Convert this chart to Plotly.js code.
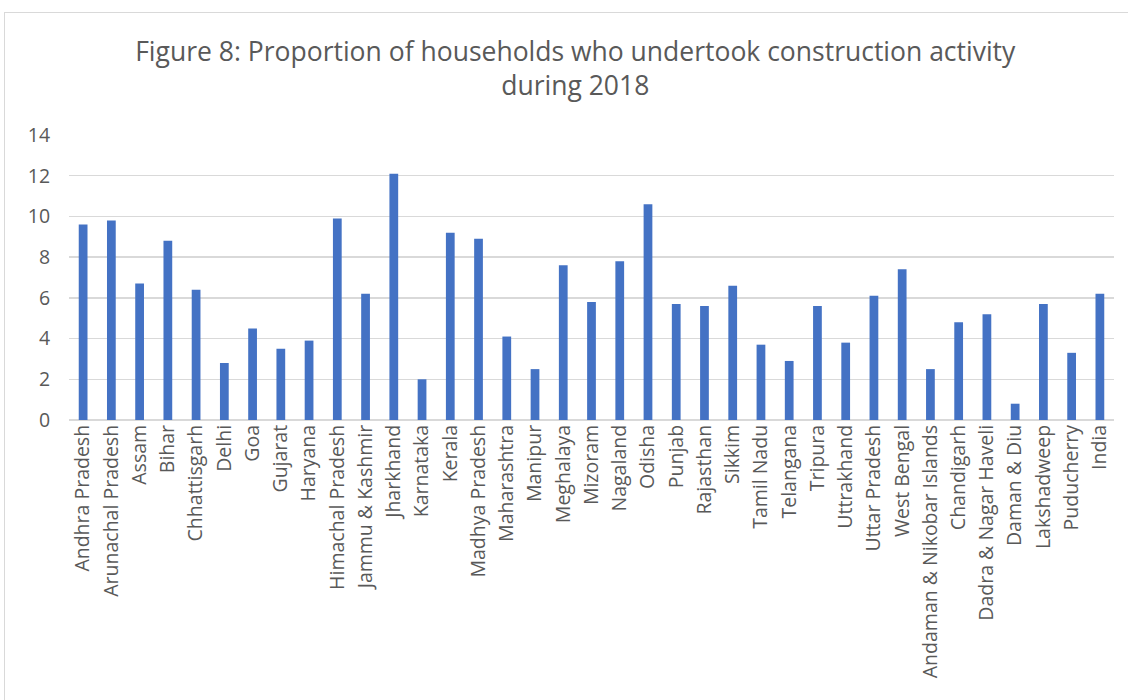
<!DOCTYPE html>
<html>
<head>
<meta charset="utf-8">
<script src="https://cdn.plot.ly/plotly-3.0.1.min.js"></script>
<style>
  html, body { margin: 0; padding: 0; background: #fff; overflow: hidden; }
  #chart { position: absolute; left: 0; top: 0; width: 1128px; height: 700px; }
  #frame { position: absolute; left: 4px; top: 12px; width: 1140px; height: 700px; border: 1px solid #d9d9d9; pointer-events: none; }
</style>
</head>
<body>
<div id="chart"></div>
<div id="frame"></div>
<script>
const states = ["Andhra Pradesh","Arunachal Pradesh","Assam","Bihar","Chhattisgarh","Delhi","Goa","Gujarat","Haryana","Himachal Pradesh","Jammu & Kashmir","Jharkhand","Karnataka","Kerala","Madhya Pradesh","Maharashtra","Manipur","Meghalaya","Mizoram","Nagaland","Odisha","Punjab","Rajasthan","Sikkim","Tamil Nadu","Telangana","Tripura","Uttrakhand","Uttar Pradesh","West Bengal","Andaman & Nikobar Islands","Chandigarh","Dadra & Nagar Haveli","Daman & Diu","Lakshadweep","Puducherry","India"];
const proportion = [9.6,9.8,6.7,8.8,6.4,2.8,4.5,3.5,3.9,9.9,6.2,12.1,2.0,9.2,8.9,4.1,2.5,7.6,5.8,7.8,10.6,5.7,5.6,6.6,3.7,2.9,5.6,3.8,6.1,7.4,2.5,4.8,5.2,0.8,5.7,3.3,6.2];
const yTicks = [0,2,4,6,8,10,12,14];

const font = "'Open Sans', sans-serif";
Plotly.newPlot('chart', [{
  type: 'bar',
  x: states,
  y: proportion,
  marker: { color: '#4472C4' },
  hoverinfo: 'x+y'
}], {
  width: 1128, height: 700,
  margin: { l: 69, r: 14, t: 135, b: 280 },
  paper_bgcolor: '#fff', plot_bgcolor: '#fff',
  bargap: 0.69,
  title: {
    text: 'Figure 8: Proportion of households who undertook construction activity<br>during 2018',
    font: { family: font, size: 26.5, color: '#595959' },
    x: 0.51, xref: 'container', xanchor: 'center',
    y: 1 - 61/700, yref: 'container', yanchor: 'middle'
  },
  xaxis: {
    type: 'category',
    tickangle: -90,
    tickfont: { family: font, size: 19.5, color: '#595959' },
    showgrid: false, ticks: '', showline: false
  },
  yaxis: {
    range: [0, 14],
    tickvals: yTicks,
    tickfont: { family: font, size: 19.5, color: '#595959' },
    gridcolor: '#d9d9d9', gridwidth: 1.3,
    zeroline: true, zerolinecolor: '#d9d9d9', zerolinewidth: 1.3,
    ticks: 'outside', ticklen: 14, tickcolor: 'rgba(0,0,0,0)',
    showline: false
  },
  showlegend: false
}, { displayModeBar: false, staticPlot: true });
</script>
</body>
</html>
